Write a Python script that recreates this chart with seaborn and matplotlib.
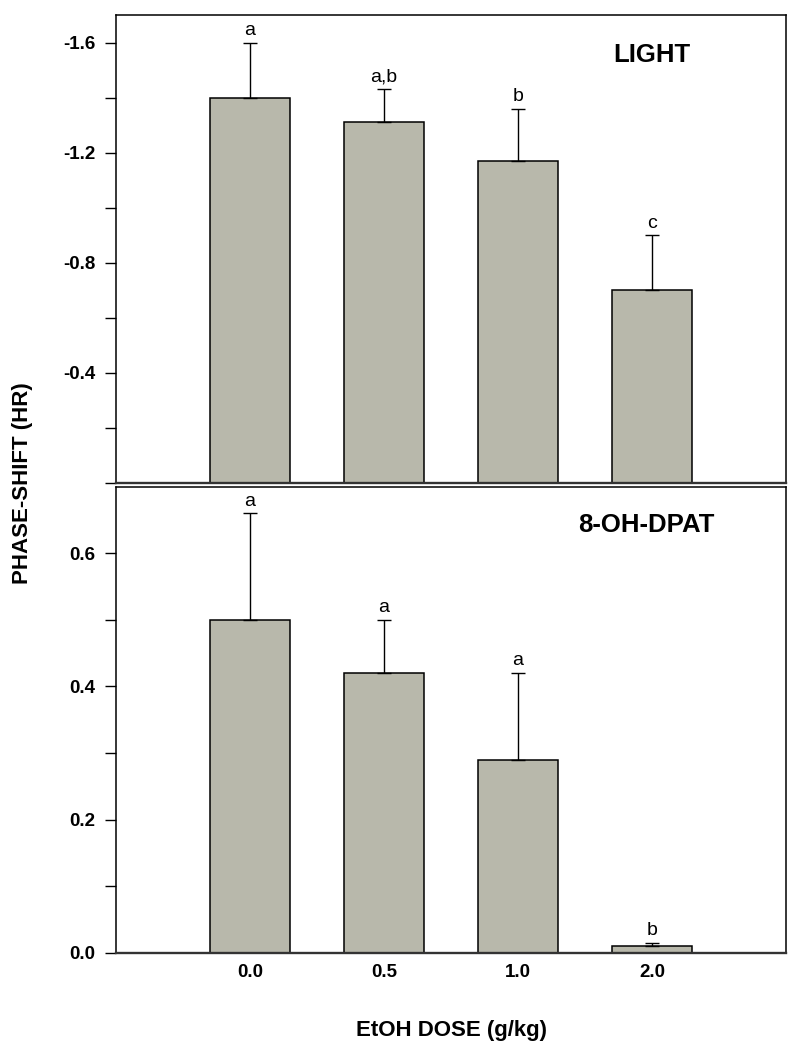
import matplotlib
matplotlib.use("Agg")
import matplotlib.pyplot as plt
import seaborn as sns
import numpy as np
import pandas as pd

# values
doses = ["0.0", "0.5", "1.0", "2.0"]
light_mean = [-1.40, -1.31, -1.17, -0.70]
light_sem = [0.20, 0.12, 0.19, 0.20]
light_letters = ["a", "a,b", "b", "c"]
dpat_mean = [0.50, 0.42, 0.29, 0.01]
dpat_sem = [0.16, 0.08, 0.13, 0.005]
dpat_letters = ["a", "a", "a", "b"]

bar_color = "#b8b8ab"

sns.set_style("ticks")
plt.rcParams['font.family'] = ['Liberation Sans', 'DejaVu Sans']
plt.rcParams['text.color'] = 'black'
plt.rcParams['axes.labelcolor'] = 'black'
plt.rcParams['xtick.color'] = 'black'
plt.rcParams['ytick.color'] = 'black'

fig = plt.figure(figsize=(7.97, 10.5), dpi=100)
ax1 = fig.add_axes([116/797, 1-483/1050, 670/797, 468/1050])
ax2 = fig.add_axes([116/797, 1-952.7/1050, 670/797, 466/1050])


def panel(ax, mean, sem, letters, titulo, tx, ty, negativo):
    df = pd.DataFrame({"dose": doses, "valor": mean})
    sns.barplot(data=df, x="dose", y="valor", color=bar_color, saturation=1,
                width=0.6, edgecolor="black", linewidth=1.1, ax=ax, zorder=2)
    x = np.arange(len(doses))
    ceros = np.zeros(len(doses))
    if negativo:
        yerr = [sem, ceros]
        tips = np.array(mean) - np.array(sem)
    else:
        yerr = [ceros, sem]
        tips = np.array(mean) + np.array(sem)
    ax.errorbar(x, mean, yerr=yerr, fmt="none", ecolor="black",
                elinewidth=1, capsize=5.3, capthick=1, zorder=3)
    for xi, yi, lt in zip(x, tips, letters):
        ax.annotate(lt, (xi, yi), xytext=(0, 5.5), textcoords="offset points",
                    ha="center", va="baseline", fontsize=14)
    ax.text(tx, ty, titulo, ha="center", va="center", fontsize=18.5,
            fontweight="bold")
    ax.set_xlim(-1, 4)
    ax.set_xlabel("")
    ax.set_ylabel("")
    for s in ax.spines.values():
        s.set_linewidth(1.1)
        s.set_color("black")
    ax.spines["bottom"].set_linewidth(1.7)
    ax.spines["bottom"].set_color("#333333")
    ax.tick_params(axis="y", which="both", length=8, width=1, pad=7,
                   labelsize=13.5, direction="out")
    ax.tick_params(axis="x", length=0, pad=8, labelsize=13.5)


panel(ax1, light_mean, light_sem, light_letters, "LIGHT", 3.0, -1.556, True)
ax1.set_ylim(0, -1.7)
ax1.set_yticks([0, -0.4, -0.8, -1.2, -1.6])
ax1.set_yticklabels(["", "-0.4", "-0.8", "-1.2", "-1.6"], fontweight="bold")
ax1.set_yticks([-0.2, -0.6, -1.0, -1.4], minor=True)
ax1.set_xticklabels([])

panel(ax2, dpat_mean, dpat_sem, dpat_letters, "8-OH-DPAT", 2.955, 0.642, False)
ax2.set_ylim(0, 0.7)
ax2.set_yticks([0, 0.2, 0.4, 0.6])
ax2.set_yticklabels(["0.0", "0.2", "0.4", "0.6"], fontweight="bold")
ax2.set_yticks([0.1, 0.3, 0.5], minor=True)
ax2.set_xticks(range(len(doses)))
ax2.set_xticklabels(doses, fontweight="bold")
ax2.set_xlabel("EtOH DOSE (g/kg)", fontsize=16, fontweight="bold", labelpad=28)

fig.text(23/797, 1-483/1050, "PHASE-SHIFT (HR)", rotation=90, ha="center",
         va="center", fontsize=16, fontweight="bold")

fig.savefig("out.png", dpi=100)
